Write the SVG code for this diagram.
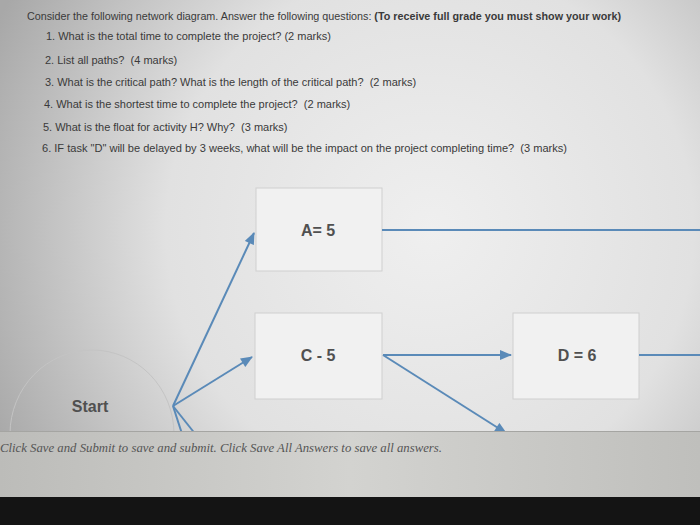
<svg xmlns="http://www.w3.org/2000/svg" width="700" height="525" viewBox="0 0 700 525">
<defs>
<radialGradient id="bg" cx="430" cy="230" r="480" gradientUnits="userSpaceOnUse">
<stop offset="0" stop-color="#efefef"/>
<stop offset="0.55" stop-color="#e1e1e1"/>
<stop offset="1" stop-color="#a8a8a8"/>
</radialGradient>
<linearGradient id="foot" x1="0" y1="0" x2="1" y2="0">
<stop offset="0" stop-color="#bcbcb9"/>
<stop offset="0.5" stop-color="#d3d3d0"/>
<stop offset="1" stop-color="#bfbfbc"/>
</linearGradient>
<marker id="ah" viewBox="0 0 12 10" refX="11" refY="5" markerWidth="6.5" markerHeight="5" orient="auto" markerUnits="strokeWidth">
<path d="M0,0 L12,5 L0,10 z" fill="#5a8ab8"/>
</marker>
<style>
.q{font-family:"Liberation Sans",Arial,sans-serif;font-size:11px;fill:#3a3a3a}
.qb{font-weight:bold}
.box{fill:#f1f1f1;stroke:#cfcfcf;stroke-width:1}
.lbl{font-family:"Liberation Sans",Arial,sans-serif;font-weight:bold;font-size:16px;fill:#505050;text-anchor:middle}
.ln{fill:none;stroke:#5a8ab8;stroke-width:2}
.ft{font-family:"Liberation Serif","Times New Roman",serif;font-style:italic;font-size:11.5px;fill:#555}
</style>
</defs>
<rect x="0" y="0" width="700" height="525" fill="url(#bg)"/>

<g id="questions">
<text class="q" x="27" y="20" textLength="594" lengthAdjust="spacingAndGlyphs"><tspan>Consider the following network diagram. Answer the following questions: </tspan><tspan class="qb">(To receive full grade you must show your work)</tspan></text>
<text class="q" x="46" y="40">1. What is the total time to complete the project? (2 marks)</text>
<text class="q" x="45" y="64">2. List all paths?&#160; (4 marks)</text>
<text class="q" x="45" y="86">3. What is the critical path? What is the length of the critical path?&#160; (2 marks)</text>
<text class="q" x="44" y="108">4. What is the shortest time to complete the project?&#160; (2 marks)</text>
<text class="q" x="43" y="131">5. What is the float for activity H? Why?&#160; (3 marks)</text>
<text class="q" x="42" y="152" textLength="525" lengthAdjust="spacingAndGlyphs">6. IF task "D" will be delayed by 3 weeks, what will be the impact on the project completing time?&#160; (3 marks)</text>
</g>

<g id="start">
<ellipse cx="92" cy="434" rx="82" ry="84" fill="none" stroke="#c4c4c4" stroke-width="1"/>
<text class="lbl" x="90" y="412" font-size="17">Start</text>
</g>

<g id="nodeA">
<rect class="box" x="256" y="188" width="126" height="83"/>
<text class="lbl" x="318" y="236">A= 5</text>
</g>
<g id="nodeC">
<rect class="box" x="255" y="313" width="127" height="86"/>
<text class="lbl" x="318" y="361">C - 5</text>
</g>
<g id="nodeD">
<rect class="box" x="513" y="313" width="126" height="86"/>
<text class="lbl" x="577" y="361">D = 6</text>
</g>

<g id="connectors">
<line class="ln" x1="173" y1="406" x2="254" y2="233" marker-end="url(#ah)"/>
<line class="ln" x1="173" y1="406" x2="252" y2="357" marker-end="url(#ah)"/>
<line class="ln" x1="173" y1="406" x2="184" y2="440"/>
<line class="ln" x1="173" y1="406" x2="200" y2="440"/>
<line class="ln" x1="382" y1="230" x2="700" y2="230"/>
<line class="ln" x1="383" y1="355" x2="511" y2="355" marker-end="url(#ah)"/>
<line class="ln" x1="383" y1="355" x2="506" y2="433" marker-end="url(#ah)"/>
<line class="ln" x1="639" y1="355" x2="700" y2="355"/>
</g>

<g id="footer">
<rect x="0" y="431" width="700" height="67" fill="url(#foot)"/>
<line x1="0" y1="431.5" x2="700" y2="431.5" stroke="#a5a5a2" stroke-width="1"/>
<text class="ft" x="0" y="452" textLength="442" lengthAdjust="spacingAndGlyphs">Click Save and Submit to save and submit. Click Save All Answers to save all answers.</text>
<rect x="0" y="497" width="700" height="28" fill="#141414"/>
</g>
</svg>
